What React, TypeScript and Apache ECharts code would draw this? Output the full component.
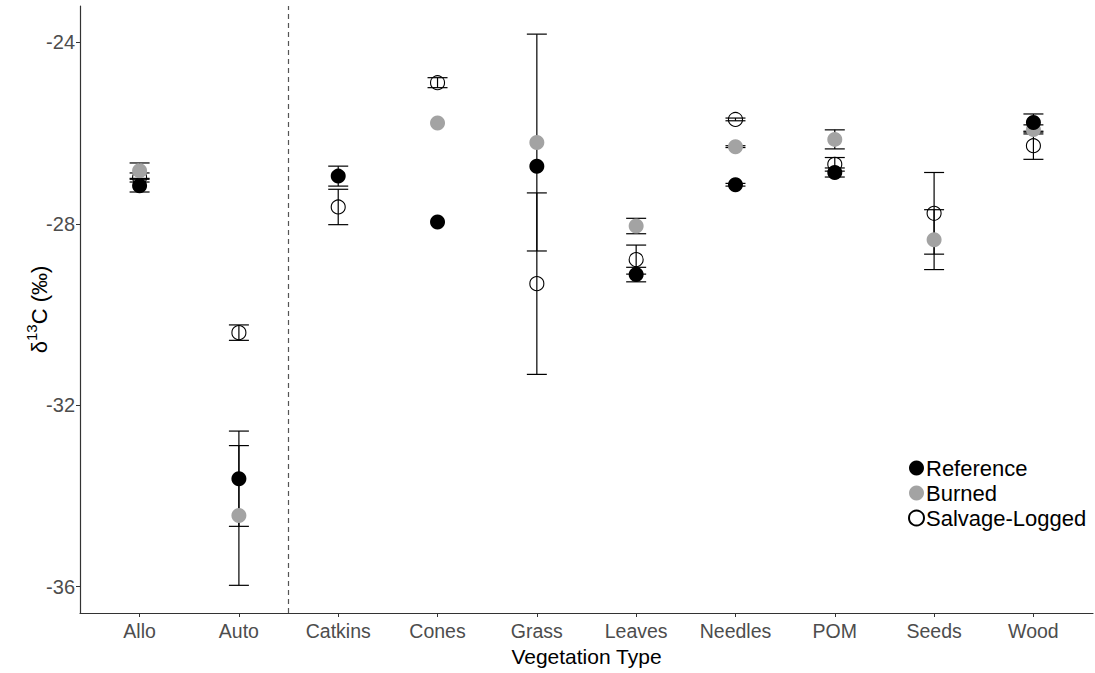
import React, { useEffect, useRef } from "react";
import * as echarts from "echarts";

// Vegetation types along the x axis
const categories = ["Allo", "Auto", "Catkins", "Cones", "Grass", "Leaves", "Needles", "POM", "Seeds", "Wood"];

// Mean δ13C (‰) and error (±) per treatment; null = not shown
const referenceMean = [-27.16, -33.62, -26.95, -27.96, -26.73, -29.12, -27.14, -26.87, null, -25.77];
const referenceErr = [0.14, 1.05, 0.22, null, null, 0.16, 0.03, 0.1, null, 0.19];

const burnedMean = [-26.83, -34.43, null, -25.78, -26.21, -28.05, -26.3, -26.14, -28.35, -25.92];
const burnedErr = [0.17, 1.54, null, null, 2.39, 0.17, 0.02, 0.21, 0.66, 0.1];

const salvageMean = [-26.98, -30.4, -27.63, -24.89, -29.32, -28.79, -25.7, -26.69, -27.77, -26.28];
const salvageErr = [0.1, 0.17, 0.39, 0.11, 2.0, 0.32, 0.03, 0.15, 0.9, 0.3];

const yTicks = [-36, -32, -28, -24];

const FONT = "Liberation Sans, Arial, sans-serif";

function points(means: (number | null)[]) {
  return means
    .map((m, i) => (m === null ? null : [i, m]))
    .filter((d) => d !== null) as number[][];
}

function errorData(means: (number | null)[], errs: (number | null)[]) {
  const out: number[][] = [];
  means.forEach((m, i) => {
    const e = errs[i];
    if (m !== null && e !== null) out.push([i, m - e, m + e]);
  });
  return out;
}

function errorSeries(name: string, data: number[][]) {
  return {
    type: "custom",
    name: name + "-err",
    z: 1,
    silent: true,
    data,
    encode: { x: 0, y: [1, 2] },
    renderItem: (_params: any, api: any) => {
      const x = api.value(0);
      const lo = api.coord([x, api.value(1)]);
      const hi = api.coord([x, api.value(2)]);
      const half = 10;
      const style = { stroke: "#000", lineWidth: 1.2, fill: "none" };
      return {
        type: "group",
        children: [
          { type: "line", shape: { x1: lo[0], y1: lo[1], x2: hi[0], y2: hi[1] }, style },
          { type: "line", shape: { x1: lo[0] - half, y1: lo[1], x2: lo[0] + half, y2: lo[1] }, style },
          { type: "line", shape: { x1: hi[0] - half, y1: hi[1], x2: hi[0] + half, y2: hi[1] }, style },
        ],
      };
    },
  };
}

export default function App() {
  const ref = useRef<HTMLDivElement>(null);

  useEffect(() => {
    if (!ref.current) return;
    const chart = echarts.init(ref.current, undefined, { renderer: "svg" });
    const option: any = {
      animation: false,
      backgroundColor: "#fff",
      textStyle: { fontFamily: FONT },
      grid: { left: 80, right: 2, top: 6, bottom: 60, containLabel: false, outerBoundsMode: "none" },
      xAxis: {
        type: "value",
        min: -0.6,
        max: 9.6,
        name: "Vegetation Type",
        nameLocation: "middle",
        nameGap: 33,
        nameMoveOverlap: false,
        nameTextStyle: { fontSize: 21, color: "#000", fontFamily: FONT },
        axisLine: { show: true, onZero: false, lineStyle: { color: "#333", width: 1.2 } },
        axisTick: { show: true, length: 4, lineStyle: { color: "#333" }, customValues: categories.map((_, i) => i) },
        axisLabel: {
          color: "#4d4d4d",
          fontSize: 19.5,
          margin: 8,
          fontFamily: FONT,
          customValues: categories.map((_, i) => i),
          formatter: (v: number) => categories[Math.round(v)] ?? "",
        },
        splitLine: { show: false },
      },
      yAxis: {
        type: "value",
        min: -36.58,
        max: -23.2,
        name: "{a|δ}{s|13}{a|C (‰)}",
        nameLocation: "middle",
        nameRotate: 90,
        nameGap: 30,
        nameMoveOverlap: false,
        nameTextStyle: {
          color: "#000",
          fontFamily: FONT,
          rich: {
            a: { fontSize: 22, color: "#000", fontFamily: FONT, lineHeight: 26, verticalAlign: "bottom" },
            s: { fontSize: 15, color: "#000", fontFamily: FONT, lineHeight: 26, verticalAlign: "top" },
          },
        },
        axisLine: { show: true, onZero: false, lineStyle: { color: "#333", width: 1.2 } },
        axisTick: { show: true, length: 4, lineStyle: { color: "#333" }, customValues: yTicks },
        axisLabel: {
          color: "#4d4d4d",
          fontSize: 20,
          margin: 5,
          fontFamily: FONT,
          customValues: yTicks,
        },
        splitLine: { show: false },
      },
      legend: {
        orient: "vertical",
        left: 903,
        top: 452,
        itemWidth: 15,
        itemHeight: 15,
        itemGap: 3,
        icon: "circle",
        textStyle: { fontSize: 22, color: "#000", fontFamily: FONT, padding: [0, 0, 0, -3] },
        data: ["Reference", "Burned", "Salvage-Logged"],
      },
      series: [
        errorSeries("Reference", errorData(referenceMean, referenceErr)),
        errorSeries("Burned", errorData(burnedMean, burnedErr)),
        errorSeries("Salvage-Logged", errorData(salvageMean, salvageErr)),
        {
          type: "line",
          silent: true,
          data: [],
          markLine: {
            silent: true,
            symbol: "none",
            label: { show: false },
            lineStyle: { color: "#555", type: [5, 4], width: 1.2 },
            data: [{ xAxis: 1.5 }],
          },
        },
        {
          type: "scatter",
          name: "Salvage-Logged",
          z: 3,
          symbol: "circle",
          symbolSize: 14,
          data: points(salvageMean),
          itemStyle: { color: "rgba(255,255,255,0)", borderColor: "#000", borderWidth: 1.1, opacity: 1 },
        },
        {
          type: "scatter",
          name: "Burned",
          z: 4,
          symbol: "circle",
          symbolSize: 15,
          data: points(burnedMean),
          itemStyle: { color: "#a3a3a3", opacity: 1 },
        },
        {
          type: "scatter",
          name: "Reference",
          z: 5,
          symbol: "circle",
          symbolSize: 15,
          data: points(referenceMean),
          itemStyle: { color: "#000", opacity: 1 },
        },
      ],
    };
    chart.setOption(option);
    return () => chart.dispose();
  }, []);

  return <div ref={ref} style={{ width: 1095, height: 673, position: "absolute", left: 0, top: 0 }} />;
}
